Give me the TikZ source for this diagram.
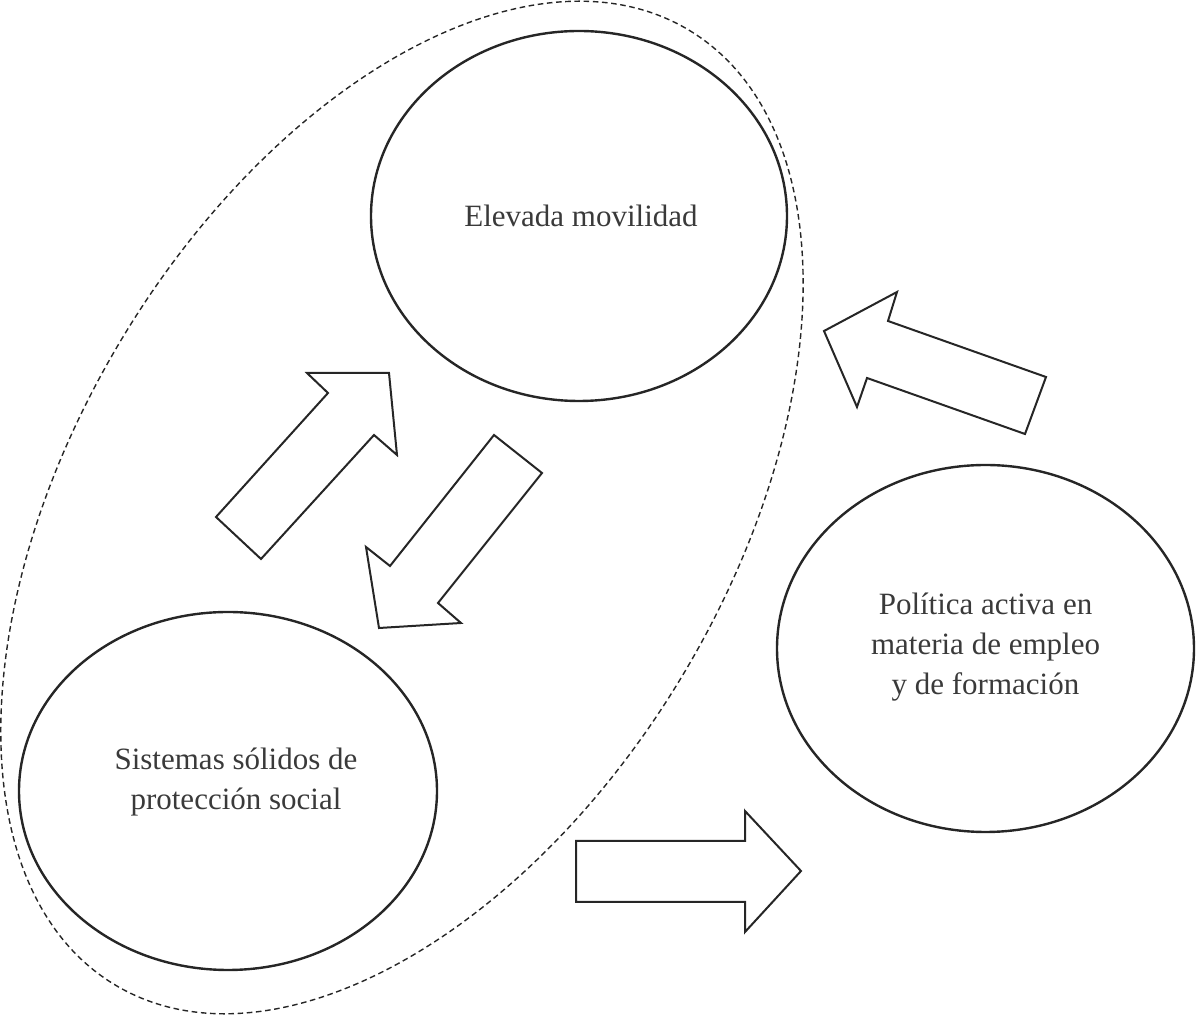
\documentclass[tikz,border=0pt]{standalone}
\usepackage{fontspec}
\setmainfont{Liberation Serif}
\usetikzlibrary{shapes.geometric}
\definecolor{ink}{HTML}{262626}
\definecolor{txt}{HTML}{3A3A3A}
\begin{document}
\begin{tikzpicture}[x=0.5pt,y=-0.5pt,
  bubble/.style={draw=ink,line width=1.2pt,ellipse,inner sep=0pt},
  lbl/.style={text=txt,font=\fontsize{15.5}{20}\selectfont,align=center},
  blockarrow/.style={draw=ink,line width=1pt,line join=miter},
  grp/.style={draw=ink,line width=0.7pt,dash pattern=on 2.8pt off 1.8pt}]
\useasboundingbox (0,0) rectangle (1196,1015);
% dashed grouping ellipse
\coordinate (gc) at (402,507.5);
\draw[grp, rotate around={58.97:(gc)}] (gc) ellipse [x radius=557, y radius=327];
% ellipses
\node[bubble, minimum width=208pt, minimum height=185pt] (e1) at (579,216) {};
\node[bubble, minimum width=209pt, minimum height=179pt] (e2) at (228,791) {};
\node[bubble, minimum width=208.5pt, minimum height=183.5pt] (e3) at (985.5,648.5) {};
% labels
\node[lbl] (t1) at (581,216) {Elevada movilidad};
\node[lbl] (t2) at (236,782) {Sistemas sólidos de\\protección social};
\node[lbl] (t3) at (985.5,647) {Política activa en\\materia de empleo\\y de formación};
% block arrows
\draw[blockarrow] (307,373) -- (389,373) -- (397,455) -- (374,435) -- (261,559) -- (216,517) -- (328,393) -- cycle;
\draw[blockarrow] (494,435) -- (542,473) -- (438,603) -- (461,623) -- (379,628) -- (366,547) -- (390,566) -- cycle;
\draw[blockarrow] (897,292) -- (888,321) -- (1046,377) -- (1025,434) -- (867,378) -- (857,407) -- (824,331) -- cycle;
\draw[blockarrow] (576,841) -- (745,841) -- (745,811) -- (801,871) -- (745,932) -- (745,902) -- (576,902) -- cycle;
\end{tikzpicture}
\end{document}
